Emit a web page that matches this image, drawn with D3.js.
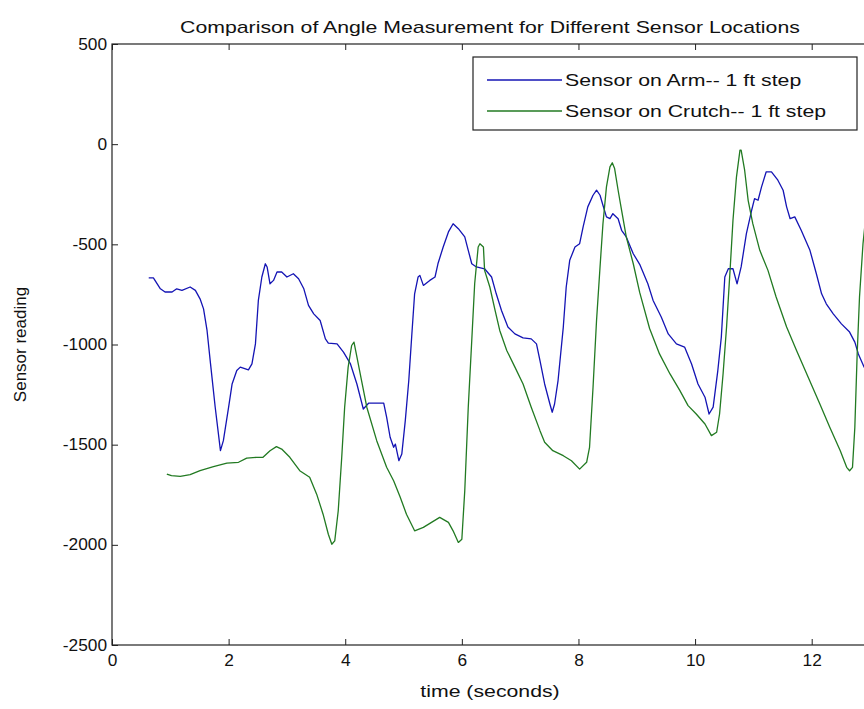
<!DOCTYPE html>
<html>
<head>
<meta charset="utf-8">
<script src="https://cdn.jsdelivr.net/npm/d3@7"></script>
<style>
  body { margin: 0; background: #fff; }
  text { font-family: "Liberation Sans", Arial, sans-serif; fill: #111; }
</style>
</head>
<body>
<div id="chart"></div>
<script>
// time (s) / reading pairs
var armTime = [0.63, 0.71, 0.83, 0.91, 1.03, 1.11, 1.2, 1.34, 1.43, 1.51, 1.57, 1.63, 1.69, 1.77, 1.86, 1.91, 2.0, 2.06, 2.14, 2.2, 2.34, 2.4, 2.46, 2.51, 2.57, 2.63, 2.66, 2.71, 2.77, 2.83, 2.91, 3.0, 3.11, 3.2, 3.29, 3.37, 3.46, 3.57, 3.66, 3.71, 3.86, 3.97, 4.09, 4.2, 4.31, 4.4, 4.66, 4.71, 4.77, 4.83, 4.86, 4.92, 4.97, 5.03, 5.09, 5.14, 5.19, 5.25, 5.28, 5.34, 5.45, 5.54, 5.59, 5.68, 5.77, 5.85, 5.94, 6.05, 6.11, 6.17, 6.25, 6.39, 6.51, 6.59, 6.68, 6.79, 6.91, 7.05, 7.19, 7.28, 7.34, 7.42, 7.51, 7.55, 7.59, 7.65, 7.74, 7.79, 7.85, 7.94, 8.02, 8.08, 8.16, 8.25, 8.31, 8.37, 8.42, 8.48, 8.54, 8.59, 8.68, 8.74, 8.82, 8.94, 9.05, 9.19, 9.28, 9.42, 9.54, 9.68, 9.82, 9.94, 10.05, 10.17, 10.24, 10.31, 10.39, 10.45, 10.51, 10.57, 10.65, 10.72, 10.79, 10.88, 10.97, 11.02, 11.08, 11.14, 11.22, 11.31, 11.42, 11.51, 11.57, 11.63, 11.71, 11.82, 11.97, 12.08, 12.17, 12.25, 12.37, 12.51, 12.65, 12.74, 12.8, 12.9, 13.0];
var armValue = [-667, -667, -722, -738, -738, -722, -730, -713, -730, -772, -822, -930, -1097, -1313, -1530, -1480, -1313, -1197, -1130, -1113, -1127, -1097, -997, -780, -663, -597, -613, -697, -680, -638, -638, -663, -647, -672, -722, -805, -847, -880, -972, -993, -997, -1038, -1097, -1197, -1322, -1293, -1293, -1363, -1463, -1513, -1497, -1580, -1547, -1380, -1180, -960, -747, -663, -655, -705, -680, -663, -597, -513, -438, -397, -422, -463, -530, -597, -613, -622, -663, -747, -830, -913, -947, -967, -972, -997, -1080, -1197, -1297, -1338, -1297, -1180, -913, -713, -580, -513, -497, -413, -313, -255, -230, -255, -305, -363, -372, -347, -372, -430, -463, -547, -600, -697, -780, -863, -947, -997, -1013, -1097, -1197, -1263, -1347, -1313, -1130, -963, -663, -622, -622, -697, -613, -447, -330, -272, -280, -213, -138, -138, -180, -230, -313, -372, -363, -430, -530, -647, -747, -797, -847, -897, -938, -988, -1047, -1113, -1150];

var crutchTime = [0.94, 1.02, 1.17, 1.34, 1.51, 1.74, 1.97, 2.17, 2.31, 2.48, 2.59, 2.71, 2.82, 2.91, 3.05, 3.22, 3.39, 3.51, 3.62, 3.71, 3.77, 3.82, 3.88, 3.94, 3.99, 4.05, 4.11, 4.15, 4.19, 4.28, 4.37, 4.54, 4.71, 4.83, 4.94, 5.05, 5.19, 5.34, 5.48, 5.62, 5.77, 5.85, 5.94, 6.0, 6.05, 6.11, 6.17, 6.22, 6.28, 6.31, 6.37, 6.39, 6.48, 6.57, 6.65, 6.77, 6.91, 7.05, 7.19, 7.34, 7.42, 7.56, 7.74, 7.88, 8.02, 8.14, 8.19, 8.25, 8.31, 8.37, 8.42, 8.48, 8.54, 8.58, 8.62, 8.68, 8.74, 8.82, 8.94, 9.05, 9.22, 9.39, 9.57, 9.74, 9.88, 10.02, 10.17, 10.28, 10.37, 10.42, 10.48, 10.54, 10.6, 10.65, 10.71, 10.77, 10.79, 10.85, 10.91, 10.99, 11.11, 11.25, 11.39, 11.57, 11.74, 11.94, 12.14, 12.31, 12.49, 12.6, 12.65, 12.7, 12.74, 12.78, 12.82, 12.88, 12.95];
var crutchValue = [-1647, -1655, -1658, -1650, -1630, -1610, -1592, -1588, -1567, -1563, -1563, -1530, -1510, -1522, -1563, -1630, -1663, -1747, -1847, -1947, -1997, -1980, -1830, -1563, -1313, -1113, -1005, -988, -1047, -1180, -1313, -1480, -1613, -1680, -1760, -1847, -1930, -1913, -1888, -1863, -1888, -1930, -1988, -1972, -1730, -1313, -980, -697, -513, -497, -513, -630, -713, -830, -930, -1030, -1113, -1197, -1313, -1430, -1488, -1530, -1555, -1580, -1622, -1588, -1513, -1213, -880, -613, -397, -213, -113, -93, -122, -230, -330, -463, -597, -740, -920, -1047, -1147, -1230, -1305, -1347, -1397, -1455, -1438, -1347, -1147, -913, -630, -380, -163, -30, -30, -130, -280, -397, -530, -630, -763, -913, -1030, -1163, -1297, -1413, -1530, -1613, -1630, -1613, -1413, -1047, -763, -497, -300];

var xTicks = [0, 2, 4, 6, 8, 10, 12];
var yTicks = [-2500, -2000, -1500, -1000, -500, 0, 500];
var seriesNames = ["Sensor on Arm-- 1 ft step", "Sensor on Crutch-- 1 ft step"];
var seriesColors = ["#1414b4", "#227a22"];

var width = 864,
  height = 709;
var plotLeft = 112,
  plotRight = 870,
  plotTop = 44,
  plotBottom = 645;

var svg = d3
  .select("#chart")
  .append("svg")
  .attr("width", width)
  .attr("height", height);

var x = d3
  .scaleLinear()
  .domain([0, 13])
  .range([plotLeft, plotRight]);
var y = d3
  .scaleLinear()
  .domain([-2500, 500])
  .range([plotBottom, plotTop]);

// stretch text horizontally so it matches the wide look of the original
var stretch = function(sel, k) {
  sel.each(function() {
    var w = this.getComputedTextLength();
    d3.select(this)
      .attr("textLength", w * k)
      .attr("lengthAdjust", "spacingAndGlyphs");
  });
};

// plain hyphen minus like the original, not the unicode minus
var plainNumber = function(d) {
  return String(d);
};

var pairs = function(ts, vs) {
  return ts.map(function(t, i) {
    return [t, vs[i]];
  });
};

var line = d3
  .line()
  .x(function(d) {
    return x(d[0]);
  })
  .y(function(d) {
    return y(d[1]);
  });

svg
  .append("defs")
  .append("clipPath")
  .attr("id", "plotClip")
  .append("rect")
  .attr("x", plotLeft)
  .attr("y", plotTop)
  .attr("width", plotRight - plotLeft)
  .attr("height", plotBottom - plotTop);

var plot = svg.append("g").attr("clip-path", "url(#plotClip)");

[pairs(armTime, armValue), pairs(crutchTime, crutchValue)].forEach(function(
  data,
  i
) {
  plot
    .append("path")
    .datum(data)
    .attr("d", line)
    .attr("fill", "none")
    .attr("stroke", seriesColors[i])
    .attr("stroke-width", 1.3)
    .attr("stroke-linejoin", "round");
});

// axes box (right side falls outside the window)
svg
  .append("rect")
  .attr("x", plotLeft)
  .attr("y", plotTop)
  .attr("width", plotRight - plotLeft)
  .attr("height", plotBottom - plotTop)
  .attr("fill", "none")
  .attr("stroke", "#222")
  .attr("stroke-width", 1.2);

var xBottom = svg
  .append("g")
  .attr("transform", "translate(0," + plotBottom + ")")
  .call(
    d3
      .axisBottom(x)
      .tickValues(xTicks)
      .tickSize(-6)
      .tickPadding(10)
      .tickFormat(plainNumber)
  );
var xTop = svg
  .append("g")
  .attr("transform", "translate(0," + plotTop + ")")
  .call(
    d3
      .axisTop(x)
      .tickValues(xTicks)
      .tickSize(-6)
      .tickFormat("")
  );
var yLeft = svg
  .append("g")
  .attr("transform", "translate(" + plotLeft + ",0)")
  .call(
    d3
      .axisLeft(y)
      .tickValues(yTicks)
      .tickSize(-6)
      .tickPadding(5)
      .tickFormat(plainNumber)
  );

[xBottom, xTop, yLeft].forEach(function(g) {
  g.select(".domain").remove();
  g.selectAll(".tick line").attr("stroke", "#222");
  g.selectAll(".tick text")
    .attr("fill", "#111")
    .style("font-size", "16px")
    .style("font-family", "'Liberation Sans', Arial, sans-serif")
    .call(stretch, 1.08);
});

svg
  .append("text")
  .attr("x", 490)
  .attr("y", 33)
  .attr("text-anchor", "middle")
  .style("font-size", "17px")
  .text("Comparison of Angle Measurement for Different Sensor Locations")
  .call(stretch, 1.25);

svg
  .append("text")
  .attr("x", 490)
  .attr("y", 697)
  .attr("text-anchor", "middle")
  .style("font-size", "17px")
  .text("time (seconds)")
  .call(stretch, 1.25);

svg
  .append("text")
  .attr("transform", "translate(26," + (plotTop + plotBottom) / 2 + ") rotate(-90)")
  .attr("text-anchor", "middle")
  .style("font-size", "17px")
  .text("Sensor reading");

// legend
var legend = svg.append("g");
legend
  .append("rect")
  .attr("x", 473)
  .attr("y", 57)
  .attr("width", 384)
  .attr("height", 73)
  .attr("fill", "#fff")
  .attr("stroke", "#222")
  .attr("stroke-width", 1.2);

seriesNames.forEach(function(name, i) {
  var ly = 80 + i * 31;
  legend
    .append("line")
    .attr("x1", 487)
    .attr("x2", 562)
    .attr("y1", ly)
    .attr("y2", ly)
    .attr("stroke", seriesColors[i])
    .attr("stroke-width", 1.3);
  legend
    .append("text")
    .attr("x", 565)
    .attr("y", ly + 6)
    .style("font-size", "17px")
    .text(name)
    .call(stretch, 1.25);
});
</script>
</body>
</html>
